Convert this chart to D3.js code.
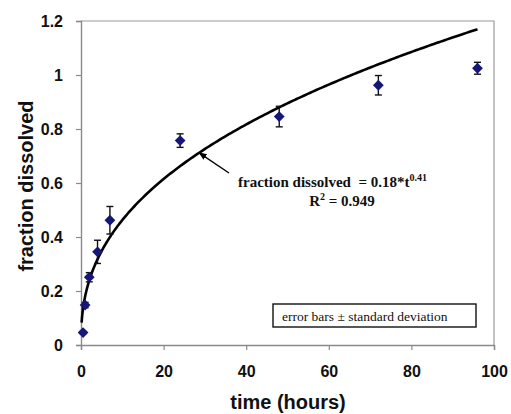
<!DOCTYPE html>
<html lang="en">
<head>
    <meta charset="utf-8">
    <script src="https://d3js.org/d3.v7.min.js"></script>
    <title>fraction dissolved</title>
    <style>
        body {margin: 0; background: #fff;}
        svg {display: block;}
        .tick text {font-family: "Liberation Sans", Arial, sans-serif; font-weight: bold; font-size: 16px; fill: #111;}
        .ttl {font-family: "Liberation Sans", Arial, sans-serif; font-weight: bold; font-size: 20px; fill: #111;}
        .note {font-family: "Liberation Serif", "Times New Roman", serif; fill: #111; white-space: pre;}
    </style>
</head>
<body>
<svg width="511" height="414"></svg>

<script>
    // measured points (hours, fraction dissolved, std dev)
    var times = [0.5, 1, 2, 4, 7, 24, 48, 72, 96];
    var fraction = [0.046, 0.148, 0.251, 0.345, 0.462, 0.757, 0.846, 0.962, 1.025];
    var stdev = [0.004, 0.01, 0.017, 0.043, 0.051, 0.025, 0.038, 0.036, 0.022];

    // power-law fit printed on the chart: 0.18*t^0.41
    var fitA = 0.18, fitB = 0.41;
    var fitRange = [0.15, 96];
    var fitMark = 28.6;   // where the arrow points

    var xTicks = [0, 20, 40, 60, 80, 100];
    var yTicks = [0, 0.2, 0.4, 0.6, 0.8, 1, 1.2];

    var svg = d3.select('svg');
    var x = d3.scaleLinear().domain([0, 100]).range([81, 494]);
    var y = d3.scaleLinear().domain([0, 1.2]).range([345, 21]);

    // plot frame (top / right)
    svg.append('path')
        .attr('d', 'M' + x(0) + ',' + y(1.2) + 'H' + x(100) + 'V' + y(0))
        .attr('fill', 'none').attr('stroke', '#9a9a9a').attr('stroke-width', 1.2);

    var gx = svg.append('g').attr('transform', 'translate(0,' + y(0) + ')')
        .call(d3.axisBottom(x).tickValues(xTicks).tickSize(5).tickPadding(16).tickFormat(d3.format('d')));
    var gy = svg.append('g').attr('transform', 'translate(' + x(0) + ',0)')
        .call(d3.axisLeft(y).tickValues(yTicks).tickSize(5).tickPadding(13).tickFormat(d => d));
    [gx, gy].forEach(g => {
        g.select('.domain').attr('stroke', '#8a8a8a').attr('stroke-width', 1.4);
        g.selectAll('.tick line').attr('stroke', '#8a8a8a').attr('stroke-width', 1.2);
    });

    // fit curve
    var fitT = d3.range(0, 201).map(i => fitRange[0] + (fitRange[1] - fitRange[0]) * Math.pow(i / 200, 2));
    svg.append('path')
        .datum(fitT)
        .attr('fill', 'none').attr('stroke', '#000').attr('stroke-width', 2.6)
        .attr('d', d3.line().x(t => x(t)).y(t => y(fitA * Math.pow(t, fitB))).curve(d3.curveMonotoneX));

    // error bars
    var eb = svg.append('g').attr('stroke', '#111').attr('stroke-width', 1.4);
    times.forEach((t, i) => {
        var top = y(fraction[i] + stdev[i]), bot = y(fraction[i] - stdev[i]);
        eb.append('line').attr('x1', x(t)).attr('x2', x(t)).attr('y1', top).attr('y2', bot);
        eb.append('line').attr('x1', x(t) - 3.5).attr('x2', x(t) + 3.5).attr('y1', top).attr('y2', top);
        eb.append('line').attr('x1', x(t) - 3.5).attr('x2', x(t) + 3.5).attr('y1', bot).attr('y2', bot);
    });

    // diamond markers
    svg.append('g').selectAll('path')
        .data(times).enter().append('path')
        .attr('d', d3.symbol().type(d3.symbolSquare).size(58))
        .attr('transform', (t, i) => 'translate(' + x(t) + ',' + y(fraction[i]) + ') rotate(45)')
        .attr('fill', '#16167a');

    // annotation arrow
    svg.append('defs').append('marker')
        .attr('id', 'arr').attr('viewBox', '0 0 10 10').attr('refX', 9).attr('refY', 5)
        .attr('markerWidth', 6).attr('markerHeight', 6).attr('orient', 'auto')
        .append('path').attr('d', 'M0,1L10,5L0,9z').attr('fill', '#000');
    svg.append('line')
        .attr('x1', 229).attr('y1', 173)
        .attr('x2', x(fitMark)).attr('y2', y(fitA * Math.pow(fitMark, fitB)))
        .attr('stroke', '#000').attr('stroke-width', 1.4).attr('marker-end', 'url(#arr)');

    var eq = svg.append('text').attr('class', 'note').attr('x', 238).attr('y', 187)
        .attr('font-weight', 'bold').attr('font-size', 15);
    eq.append('tspan').text('fraction dissolved\u00a0 = ' + fitA + '*t');
    eq.append('tspan').attr('font-size', 10).attr('dy', -6).text(fitB);
    var r2 = svg.append('text').attr('class', 'note').attr('x', 342).attr('y', 206)
        .attr('text-anchor', 'middle').attr('font-weight', 'bold').attr('font-size', 15);
    r2.append('tspan').text('R');
    r2.append('tspan').attr('font-size', 10).attr('dy', -6).text('2');
    r2.append('tspan').attr('dy', 6).text(' = 0.949');

    // legend box
    svg.append('rect').attr('x', 273).attr('y', 304).attr('width', 203).attr('height', 23)
        .attr('fill', '#fff').attr('stroke', '#111').attr('stroke-width', 1.4);
    svg.append('text').attr('class', 'note').attr('x', 282).attr('y', 321)
        .attr('font-size', 13.5).text('error bars \u00b1 standard deviation');

    // axis titles
    svg.append('text').attr('class', 'ttl')
        .attr('transform', 'translate(33,186) rotate(-90)')
        .attr('text-anchor', 'middle').text('fraction dissolved');
    svg.append('text').attr('class', 'ttl')
        .attr('x', 288).attr('y', 409)
        .attr('text-anchor', 'middle').text('time (hours)');
</script>
</body>
</html>
